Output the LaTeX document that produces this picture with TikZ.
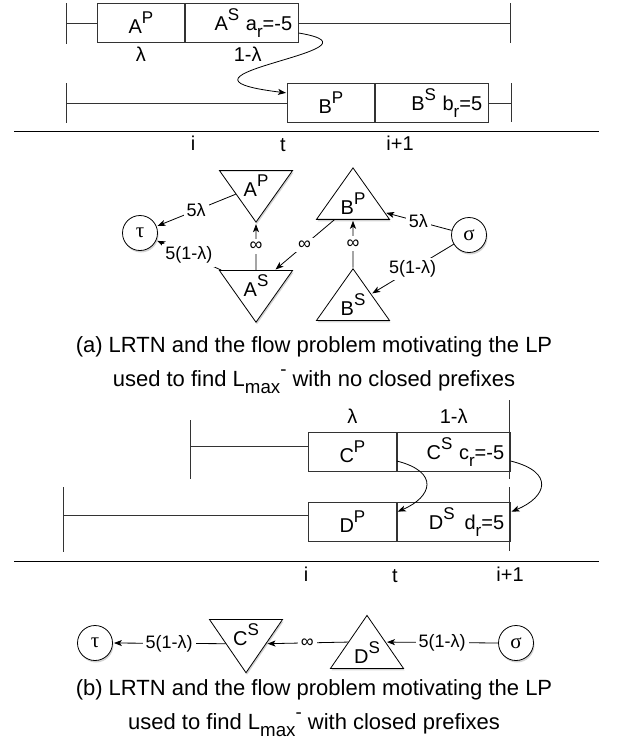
\documentclass[tikz,border=0pt]{standalone}
\usepackage{fontspec}
\setmainfont{Liberation Sans}
\newfontfamily\grk{Liberation Serif}
\usetikzlibrary{shapes,arrows,arrows.meta,positioning,shadows}

\newcommand{\upidx}[1]{\raisebox{0.5em}{\scalebox{0.85}{#1}}}
\newcommand{\dnidx}[1]{\raisebox{-0.35em}{\scalebox{0.85}{#1}}}

\begin{document}
\begin{tikzpicture}[x=1pt,y=-1pt,>={Stealth[length=8pt,width=6pt,inset=2pt]},shorten >=1pt,
  line width=0.8pt,font=\fontsize{20}{22}\selectfont,
  seg/.style={draw,black!80,text=black,minimum height=39pt,inner sep=3pt,anchor=west},
  segr/.style={seg,inner xsep=6pt,text width=101pt,align=right},
  cut/.style={fill=white,inner sep=3pt,font=\fontsize{18}{20}\selectfont},
  end node/.style={circle,draw,fill=white,minimum size=35pt,inner sep=0pt,
    font=\grk\fontsize{21}{21}\selectfont,
    drop shadow={opacity=0.35,shadow xshift=1pt,shadow yshift=-2pt}},
  tri/.style={isosceles triangle,isosceles triangle stretches,draw,fill=white,
    minimum width=73pt,minimum height=51pt,inner sep=0pt,
    drop shadow={opacity=0.35,shadow xshift=1pt,shadow yshift=-2pt}},
  tri down/.style={tri,shape border rotate=270},
  tri up/.style={tri,shape border rotate=90},
  caption/.style={align=center,font=\fontsize{22}{34}\selectfont}]
  \useasboundingbox (0,0) rectangle (628,747);

  % (a) time line
  \node[seg,minimum width=87pt] (AP) at (97,23) {A\upidx{P}};
  \node[segr,right=0pt of AP] (AS) {A\upidx{S} a\dnidx{r}=-5};
  \node[seg,minimum width=87pt] (BP) at (287,103) {B\upidx{P}};
  \node[segr,right=0pt of BP] (BS) {B\upidx{S} b\dnidx{r}=5};
  \node[below=0pt of AP] (lamA) {λ};
  \node[below=0pt of AS,xshift=6pt] (mlamA) {1-λ};

  \draw[black!80] (66,3) -- (66,44) (66,23) -- (AP.west) (AS.east) -- (510,23) (510,3) -- (510,44);
  \draw[black!80] (66,83) -- (66,123) (66,103) -- (BP.west) (BS.east) -- (511,103) (511,83) -- (511,123);
  \draw (14,131) -- (600,131);
  \node (ia) at (193,143) {i};
  \node (ta) at (283,145) {t};
  \node (ja) at (400,143) {i+1};
  \draw[->] ([yshift=-10pt]AS.east) .. controls (400,50) and (140,75) .. ([yshift=10pt]BP.west);

  % (a) flow network
  \node[end node] (tau) at (140,233) {τ};
  \node[tri down] (nAP) at (256,186) {A\upidx{P}};
  \node[tri down] (nAS) at (256,286) {A\upidx{S}};
  \node[tri up] (nBP) at (353,204) {B\upidx{P}};
  \node[tri up] (nBS) at (353,305) {B\upidx{S}};
  \node[end node] (sig) at (469,235) {σ};

  \draw[->] (nAP) -- node[cut] {5λ} (tau);
  \draw[->] (nAS) -- node[cut] {5(1-λ)} (tau);
  \draw[->] (nAS) -- node[cut] {∞} (nAP);
  \draw[->] (nBP) -- node[cut] {∞} (nAS);
  \draw[->] (nBS) -- node[cut] {∞} (nBP);
  \draw[->] (sig) -- node[cut] {5λ} (nBP);
  \draw[->] (sig) -- node[cut] {5(1-λ)} (nBS);

  \node[caption] (capa) at (314,365) {(a) LRTN and the flow problem motivating the LP\\
    used to find L\dnidx{max}\upidx{-} with no closed prefixes};

  % (b) time line
  \node[seg,minimum width=88pt] (CP) at (308,452) {C\upidx{P}};
  \node[segr,right=0pt of CP] (CS) {C\upidx{S} c\dnidx{r}=-5};
  \node[seg,minimum width=88pt] (DP) at (308,522) {D\upidx{P}};
  \node[segr,right=0pt of DP] (DS) {D\upidx{S}\enspace d\dnidx{r}=5};
  \node[above=5pt of CP] (lamB) {λ};
  \node[above=5pt of CS] (mlamB) {1-λ};

  \draw[black!80] (190,420) -- (190,479) (190,446) -- ([yshift=6pt]CP.west) (509,400) -- (509,480);
  \draw[black!80] (63,487) -- (63,552) (63,515) -- ([yshift=7pt]DP.west) (509,487) -- (509,552);
  \draw (14,561) -- (600,561);
  \node (ib) at (306,574) {i};
  \node (tb) at (395,576) {t};
  \node (jb) at (510,574) {i+1};
  \draw[->] ([yshift=-9pt]CP.east) .. controls (440,472) and (432,497) .. ([yshift=10pt]DP.east);
  \draw[->] ([yshift=-9pt]CS.east) .. controls (555,472) and (547,497) .. ([yshift=10pt]DS.east);

  % (b) flow network
  \node[end node] (tau2) at (95,643) {τ};
  \node[tri down] (nCS) at (246,635) {C\upidx{S}};
  \node[tri up] (nDS) at (367,653) {D\upidx{S}};
  \node[end node] (sig2) at (516,643) {σ};

  \draw[->] (nCS.203) -- node[cut] {5(1-λ)} (tau2.east);
  \draw[->] (nDS.150) -- node[cut] {∞} (nCS.-23);
  \draw[->] (sig2.west) -- node[cut] {5(1-λ)} (nDS.30);

  \node[caption] (capb) at (314,708) {(b) LRTN and the flow problem motivating the LP\\
    used to find L\dnidx{max}\upidx{-} with closed prefixes};
\end{tikzpicture}
\end{document}
